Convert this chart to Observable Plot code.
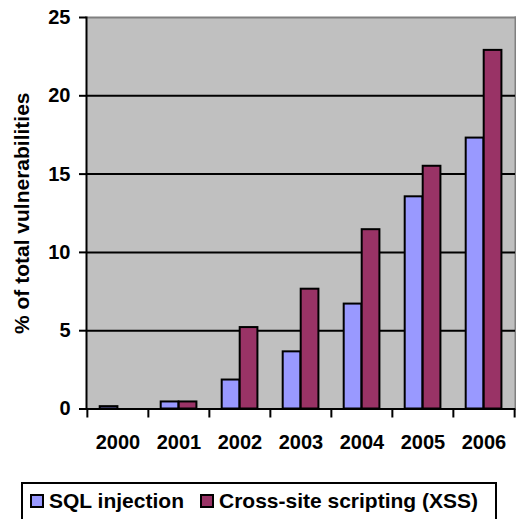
<!DOCTYPE html>
<html>
<head>
<meta charset="utf-8">
<script src="https://cdn.jsdelivr.net/npm/d3@7"></script>
<script src="https://cdn.jsdelivr.net/npm/@observablehq/plot@0.6"></script>
<style>
  html, body { margin: 0; padding: 0; background: white; }
  #wrap { width: 516px; height: 519px; position: relative; overflow: hidden; font-family: "Liberation Sans", Arial, sans-serif; }
  #legend { position: absolute; left: 21px; top: 482px; width: 472px; height: 40px; border: 2px solid black; box-sizing: content-box; display: flex; align-items: flex-start; padding-top: 0; font-weight: bold; font-size: 21px; line-height: 21px; color: black; }
  .item { display: flex; align-items: center; margin-top: 6px; }
  .item:first-child { margin-left: 7px; }
  .item + .item { margin-left: 16px; }
  .sw { width: 10px; height: 10px; border: 2px solid black; margin-right: 5px; }
</style>
</head>
<body>
<div id="wrap"></div>
<script>
const years = ["2000", "2001", "2002", "2003", "2004", "2005", "2006"];
const sqlInjection = [0.15, 0.45, 1.85, 3.65, 6.7, 13.55, 17.3];
const xss = [0, 0.45, 5.2, 7.65, 11.45, 15.5, 22.9];
const yTicks = [0, 5, 10, 15, 20, 25];
const seriesNames = ["SQL injection", "Cross-site scripting (XSS)"];
const seriesColors = ["#9999FF", "#993366"];

const sqlData = years.map((year, i) => ({year, value: sqlInjection[i]}));
const xssData = years.map((year, i) => ({year, value: xss[i]})).filter(d => d.value > 0);

const W = 516, H = 475;
const mL = 86, mR = 1, mT = 17, mB = 66.5;
const step = (W - mL - mR) / years.length;
const outer = 12.7, barW = 18;

const chart = Plot.plot({
  width: W,
  height: H,
  marginLeft: mL,
  marginRight: mR,
  marginTop: mT,
  marginBottom: mB,
  style: {fontFamily: "'Liberation Sans', Arial, sans-serif", fontWeight: "bold", fontSize: "20px", color: "black", background: "white", overflow: "visible"},
  x: {domain: years, padding: 0, label: null},
  y: {domain: [0, 25], label: null},
  marks: [
    Plot.frame({fill: "#C0C0C0", stroke: null}),
    Plot.frame({anchor: "top", stroke: "#808080", strokeWidth: 2}),
    Plot.frame({anchor: "right", stroke: "#808080", strokeWidth: 2}),
    Plot.ruleY(yTicks.filter(t => t > 0 && t < 25), {stroke: "black", strokeWidth: 2}),
    Plot.barY(sqlData, {x: "year", y: "value", fill: seriesColors[0], stroke: "black", strokeWidth: 2, insetLeft: outer, insetRight: step - outer - barW}),
    Plot.barY(xssData, {x: "year", y: "value", fill: seriesColors[1], stroke: "black", strokeWidth: 2, insetLeft: outer + barW, insetRight: step - outer - 2 * barW}),
    Plot.frame({anchor: "left", stroke: "black", strokeWidth: 2}),
    Plot.ruleY([0], {stroke: "black", strokeWidth: 2}),
    Plot.ruleX(years, {x: d => d, dx: -step / 2, y1: 0, y2: 0, insetBottom: -9, stroke: "black", strokeWidth: 2}),
    Plot.ruleX([years[years.length - 1]], {x: d => d, dx: step / 2, y1: 0, y2: 0, insetBottom: -9, stroke: "black", strokeWidth: 2}),
    Plot.axisY({ticks: yTicks, tickSize: 7, tickPadding: 9, strokeWidth: 2, fontWeight: "bold", fontSize: 20, label: null}),
    Plot.axisX({tickSize: 0, tickPadding: 26, fontWeight: "bold", fontSize: 20, label: null}),
    Plot.text(["% of total vulnerabilities"], {frameAnchor: "left", textAnchor: "middle", dx: -64, rotate: -90, fontSize: 21, fontWeight: "bold", fill: "black"})
  ]
});
const wrap = document.getElementById("wrap");
wrap.appendChild(chart);

const legend = document.createElement("div");
legend.id = "legend";
seriesNames.forEach((name, i) => {
  const item = document.createElement("div");
  item.className = "item";
  const sw = document.createElement("div");
  sw.className = "sw";
  sw.style.background = seriesColors[i];
  const label = document.createElement("span");
  label.textContent = name;
  item.appendChild(sw);
  item.appendChild(label);
  legend.appendChild(item);
});
wrap.appendChild(legend);
</script>
</body>
</html>
